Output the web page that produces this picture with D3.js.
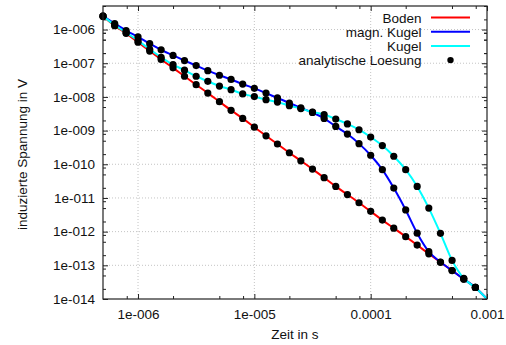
<!DOCTYPE html>
<html>
<head>
<meta charset="utf-8">
<script src="https://cdn.jsdelivr.net/npm/d3@7"></script>
<style>
  body { margin: 0; background: #fff; }
  svg { font-family: "Liberation Sans", Arial, sans-serif; }
  .axis path { display: none; }
  .axis line { stroke: #222; stroke-width: 1; }
  .axis text { font-size: 13.5px; fill: #111; }
  .grid line { stroke: #c4c4c4; stroke-width: 1; stroke-dasharray: 1,2; }
  .curve { fill: none; stroke-width: 2; }
  .legend text { font-size: 13.5px; fill: #111; text-anchor: end; }
  .label { font-size: 13.5px; fill: #111; text-anchor: middle; }
</style>
</head>
<body>
<svg width="506" height="345"></svg>
<script>
// time samples (s), 10 per decade
var zeit = [5.0e-7, 6.3e-7, 7.9e-7, 1.0e-6, 1.26e-6, 1.58e-6, 2.0e-6, 2.51e-6, 3.16e-6, 3.98e-6,
            5.01e-6, 6.31e-6, 7.94e-6, 1.0e-5, 1.26e-5, 1.58e-5, 2.0e-5, 2.51e-5, 3.16e-5, 3.98e-5,
            5.01e-5, 6.31e-5, 7.94e-5, 1.0e-4, 1.26e-4, 1.58e-4, 2.0e-4, 2.51e-4, 3.16e-4, 3.98e-4,
            5.01e-4, 6.31e-4, 7.94e-4, 1.0e-3];

// induced voltage (V)
var boden = [2.5e-6, 1.3e-6, 7.7e-7, 4.2e-7, 2.3e-7, 1.3e-7, 7.3e-8, 4.1e-8, 2.3e-8, 1.3e-8,
             7.2e-9, 4.0e-9, 2.3e-9, 1.26e-9, 7.0e-10, 4.0e-10, 2.2e-10, 1.27e-10, 7.2e-11, 4.0e-11,
             2.2e-11, 1.26e-11, 7.2e-12, 4.0e-12, 2.2e-12, 1.27e-12, 7.1e-13, 4.0e-13, 2.2e-13, 1.23e-13,
             7.0e-14, 3.9e-14, 2.2e-14, 1.0e-14];

var magnKugel = [2.5e-6, 1.5e-6, 9.3e-7, 6.1e-7, 3.8e-7, 2.5e-7, 1.7e-7, 1.2e-7, 8.5e-8, 6.0e-8,
                 4.4e-8, 3.3e-8, 2.4e-8, 1.8e-8, 1.3e-8, 9.3e-9, 6.6e-9, 4.7e-9, 3.45e-9, 2.3e-9,
                 1.33e-9, 7.9e-10, 4.1e-10, 1.85e-10, 6.9e-11, 1.96e-11, 4.4e-12, 9.0e-13, 2.55e-13, 1.25e-13,
                 7.0e-14, 3.9e-14, 2.2e-14, 1.0e-14];

var kugel = [2.5e-6, 1.36e-6, 8.1e-7, 4.7e-7, 2.6e-7, 1.5e-7, 9.1e-8, 6.2e-8, 4.1e-8, 2.9e-8,
             2.1e-8, 1.64e-8, 1.23e-8, 1.02e-8, 8.3e-9, 7.0e-9, 5.5e-9, 4.5e-9, 3.55e-9, 3.0e-9,
             2.2e-9, 1.58e-9, 1.06e-9, 6.4e-10, 3.6e-10, 1.73e-10, 6.9e-11, 2.2e-11, 5.0e-12, 8.9e-13,
             1.4e-13, 4.1e-14, 2.2e-14, 1.0e-14];

var xTicks = [1e-6, 1e-5, 1e-4, 1e-3],
    xTickLabels = ["1e-006", "1e-005", "0.0001", "0.001"];
var yTicks = [1e-6, 1e-7, 1e-8, 1e-9, 1e-10, 1e-11, 1e-12, 1e-13, 1e-14],
    yTickLabels = ["1e-006", "1e-007", "1e-008", "1e-009", "1e-010", "1e-011", "1e-012", "1e-013", "1e-014"];

var series = [
  {name: "Boden", color: "#ff0000", values: boden},
  {name: "magn. Kugel", color: "#0000ff", values: magnKugel},
  {name: "Kugel", color: "#00ffff", values: kugel}
];

var svg = d3.select("svg"),
    margin = {top: 6, right: 19, bottom: 46, left: 103},
    width = +svg.attr("width") - margin.left - margin.right,
    height = +svg.attr("height") - margin.top - margin.bottom;

var x = d3.scaleLog().domain([5e-7, 1e-3]).range([0, width]),
    y = d3.scaleLog().domain([1e-14, 5e-6]).range([height, 0]);

// minor ticks at 2, 5, 8 per decade
function minors(ticks, dom) {
  var out = [];
  ticks.concat([ticks[0] / 10]).forEach(function(t) {
    [2, 5, 8].forEach(function(m) {
      var v = t * m;
      if (v > d3.min(dom) && v < d3.max(dom)) out.push(v);
    });
  });
  return out;
}
var xMinor = minors(xTicks, x.domain()),
    yMinor = minors(yTicks.concat([1e-5]), y.domain());

var chart = svg.append("g")
    .attr("transform", "translate(" + margin.left + "," + margin.top + ")");

chart.append("defs").append("clipPath")
    .attr("id", "clip")
  .append("rect")
    .attr("width", width)
    .attr("height", height);

// grid
chart.append("g")
    .attr("class", "grid")
    .selectAll("line")
    .data(xTicks.filter(function(d) { return d < 1e-3; }))
  .enter().append("line")
    .attr("x1", function(d) { return x(d); })
    .attr("x2", function(d) { return x(d); })
    .attr("y1", 0)
    .attr("y2", height);

chart.append("g")
    .attr("class", "grid")
    .selectAll("line")
    .data(yTicks.filter(function(d) { return d > 1e-14; }))
  .enter().append("line")
    .attr("x1", 0)
    .attr("x2", width)
    .attr("y1", function(d) { return y(d); })
    .attr("y2", function(d) { return y(d); });

// axes, ticks pointing inward and mirrored
chart.append("g")
    .attr("class", "x axis")
    .attr("transform", "translate(0," + height + ")")
    .call(d3.axisBottom(x).tickValues(xTicks)
      .tickFormat(function(d, i) { return xTickLabels[i]; })
      .tickSize(-5).tickPadding(10));

chart.append("g")
    .attr("class", "x axis")
    .attr("transform", "translate(0," + height + ")")
    .call(d3.axisBottom(x).tickValues(xMinor).tickFormat("").tickSize(-3));

chart.append("g")
    .attr("class", "x axis")
    .call(d3.axisTop(x).tickValues(xTicks).tickFormat("").tickSize(-5));

chart.append("g")
    .attr("class", "x axis")
    .call(d3.axisTop(x).tickValues(xMinor).tickFormat("").tickSize(-3));

chart.append("g")
    .attr("class", "y axis")
    .call(d3.axisLeft(y).tickValues(yTicks)
      .tickFormat(function(d, i) { return yTickLabels[i]; })
      .tickSize(-5).tickPadding(8));

chart.append("g")
    .attr("class", "y axis")
    .call(d3.axisLeft(y).tickValues(yMinor).tickFormat("").tickSize(-3));

chart.append("g")
    .attr("class", "y axis")
    .attr("transform", "translate(" + width + ",0)")
    .call(d3.axisRight(y).tickValues(yTicks).tickFormat("").tickSize(-5));

chart.append("g")
    .attr("class", "y axis")
    .attr("transform", "translate(" + width + ",0)")
    .call(d3.axisRight(y).tickValues(yMinor).tickFormat("").tickSize(-3));

// curves
var line = d3.line()
    .curve(d3.curveMonotoneX)
    .x(function(d, i) { return x(zeit[i]); })
    .y(function(d) { return y(d); });

chart.append("g")
    .attr("clip-path", "url(#clip)")
    .selectAll(".curve")
    .data(series)
  .enter().append("path")
    .attr("class", "curve")
    .attr("stroke", function(d) { return d.color; })
    .attr("d", function(d) { return line(d.values); });

// analytic solution dots
series.forEach(function(s) {
  chart.append("g").selectAll("circle")
      .data(s.values.filter(function(d, i) { return zeit[i] < 1e-3; }))
    .enter().append("circle")
      .attr("cx", function(d, i) { return x(zeit[i]); })
      .attr("cy", function(d) { return y(d); })
      .attr("r", 3.6)
      .attr("fill", "#000");
});

// frame
chart.append("rect")
    .attr("width", width)
    .attr("height", height)
    .attr("fill", "none")
    .attr("stroke", "#222")
    .attr("stroke-width", 1.2);

// legend
var legend = svg.append("g").attr("class", "legend");
var entries = series.map(function(s) { return s.name; }).concat(["analytische Loesung"]);

entries.forEach(function(name, i) {
  var cy = 17.5 + i * 14.2;
  legend.append("text")
      .attr("x", 421.5)
      .attr("y", cy + 5.2)
      .text(name);
  if (i < 3) {
    legend.append("line")
        .attr("x1", 431)
        .attr("x2", 470)
        .attr("y1", cy)
        .attr("y2", cy)
        .attr("stroke", series[i].color)
        .attr("stroke-width", 2);
  } else {
    legend.append("circle")
        .attr("cx", 450.5)
        .attr("cy", cy)
        .attr("r", 3.2)
        .attr("fill", "#000");
  }
});

// axis labels
svg.append("text")
    .attr("class", "label")
    .attr("x", margin.left + width / 2)
    .attr("y", 339)
    .text("Zeit in s");

svg.append("text")
    .attr("class", "label")
    .attr("transform", "translate(27," + (margin.top + height / 2 + 2) + ") rotate(-90)")
    .text("induzierte Spannung in V");
</script>
</body>
</html>
